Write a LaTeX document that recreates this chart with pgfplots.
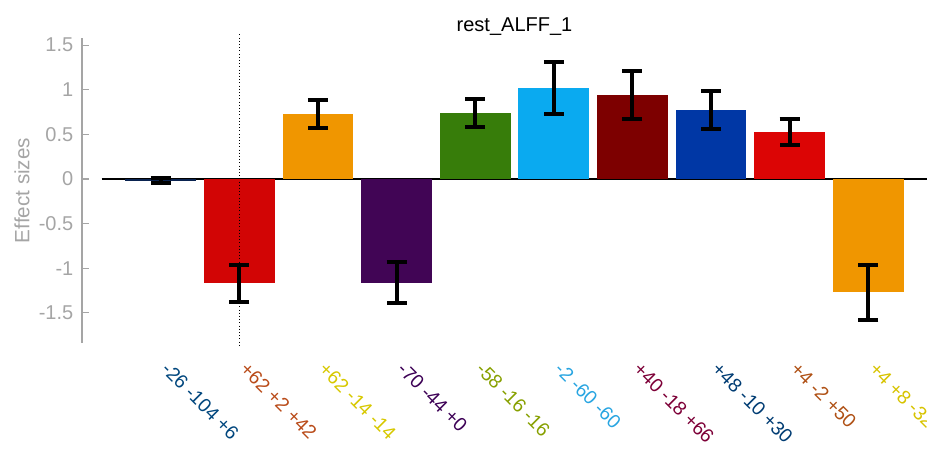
\documentclass[border=0pt]{standalone}
\usepackage{pgfplots}
\pgfplotsset{compat=1.18}
\usepackage{fontspec}
\setmainfont{Liberation Sans}
\definecolor{c1}{RGB}{10,35,80}
\definecolor{c2}{RGB}{210,5,5}
\definecolor{c3}{RGB}{240,150,0}
\definecolor{c4}{RGB}{65,5,85}
\definecolor{c5}{RGB}{55,125,10}
\definecolor{c6}{RGB}{10,170,240}
\definecolor{c7}{RGB}{125,0,0}
\definecolor{c8}{RGB}{0,55,165}
\definecolor{c9}{RGB}{220,5,5}
\definecolor{c10}{RGB}{240,150,0}
\definecolor{l1}{RGB}{0,70,125}
\definecolor{l2}{RGB}{185,75,25}
\definecolor{l3}{RGB}{215,200,0}
\definecolor{l4}{RGB}{60,0,85}
\definecolor{l5}{RGB}{135,160,0}
\definecolor{l6}{RGB}{40,165,225}
\definecolor{l7}{RGB}{125,0,55}
\definecolor{l8}{RGB}{0,60,115}
\definecolor{l9}{RGB}{175,80,20}
\definecolor{l10}{RGB}{215,195,0}
\definecolor{axgray}{RGB}{165,165,165}
\pgfplotsset{
  eb/.style={ybar, bar width=53pt, bar shift=0pt, draw=none, fill=#1,
    error bars/.cd, y dir=both, y explicit,
    error bar style={line width=3pt, black},
    error mark options={rotate=90, mark size=7.5pt, line width=3pt, black}}
}
\begin{document}
\begin{tikzpicture}
\begin{axis}[
  scale only axis,
  width=648.75pt, height=228.75pt,
  xmin=0, xmax=11, ymin=-1.837, ymax=1.579,
  axis y line*=left, axis x line*=bottom,
  x axis line style={draw=none},
  y axis line style={axgray, line width=0.8pt, -},
  ytick={-1.5,-1,-0.5,0,0.5,1,1.5},
  yticklabels={-1.5,-1,-0.5,0,0.5,1,1.5},
  ytick style={axgray, line width=0.8pt},
  tick align=inside,
  major tick length=5pt,
  yticklabel style={axgray, font=\fontsize{15}{17}\selectfont, xshift=-3pt},
  /pgf/number format/assume math mode=true,
  ylabel={Effect sizes},
  ylabel style={axgray, font=\fontsize{15.5}{17}\selectfont},
  title={rest\_ALFF\_1},
  title style={font=\fontsize{15}{17}\selectfont, yshift=-8pt},
  xtick={1,2,3,4,5,6,7,8,9,10},
  xtick style={draw=none},
  xticklabels={
    \textcolor{l1}{-26 -104 +6},
    \textcolor{l2}{+62 +2 +42},
    \textcolor{l3}{+62 -14 -14},
    \textcolor{l4}{-70 -44 +0},
    \textcolor{l5}{-58 -16 -16},
    \textcolor{l6}{-2 -60 -60},
    \textcolor{l7}{+40 -18 +66},
    \textcolor{l8}{+48 -10 +30},
    \textcolor{l9}{+4 -2 +50},
    \textcolor{l10}{+4 +8 -32}},
  xticklabel style={rotate=-45, anchor=north west, inner sep=0pt, font=\fontsize{14.5}{17}\selectfont, xshift=6pt, yshift=4pt},
  xticklabel shift=12pt,
  clip=false,
]
\addplot[black, line width=0.8pt] coordinates {(0.25,0) (11,0)};
\addplot[eb=c1] coordinates {(1,-0.02) +- (0,0.03)};
\addplot[eb=c2] coordinates {(2,-1.17) +- (0,0.21)};
\addplot[eb=c3] coordinates {(3,0.725) +- (0,0.155)};
\addplot[eb=c4] coordinates {(4,-1.16) +- (0,0.225)};
\addplot[eb=c5] coordinates {(5,0.74) +- (0,0.155)};
\addplot[eb=c6] coordinates {(6,1.02) +- (0,0.295)};
\addplot[eb=c7] coordinates {(7,0.94) +- (0,0.265)};
\addplot[eb=c8] coordinates {(8,0.77) +- (0,0.215)};
\addplot[eb=c9] coordinates {(9,0.53) +- (0,0.145)};
\addplot[eb=c10] coordinates {(10,-1.27) +- (0,0.31)};
\addplot[black, line width=1pt, dash pattern=on 0.8pt off 1.6pt] coordinates {(2,1.62) (2,-1.88)};
\end{axis}
\pgfresetboundingbox
\useasboundingbox (-61.5pt,-80.25pt) rectangle (633.75pt,257.25pt);
\end{tikzpicture}
\end{document}
